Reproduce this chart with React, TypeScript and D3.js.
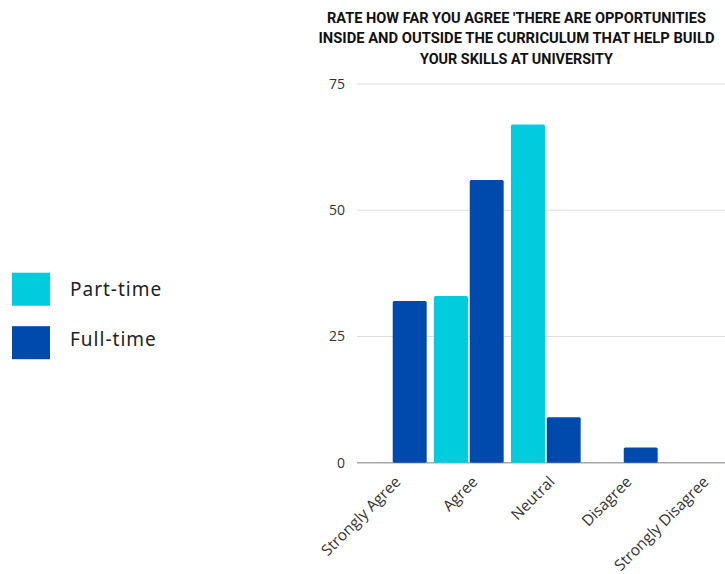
import React from "react";
import * as d3 from "d3";

const categories = ["Strongly Agree", "Agree", "Neutral", "Disagree", "Strongly Disagree"];
const seriesNames = ["Part-time", "Full-time"];
const partTime = [0, 33, 67, 0, 0];
const fullTime = [32, 56, 9, 3, 0];
const yTicks = [0, 25, 50, 75];
const titleLines = [
  "RATE HOW FAR YOU AGREE 'THERE ARE OPPORTUNITIES",
  "INSIDE AND OUTSIDE THE CURRICULUM THAT HELP BUILD",
  "YOUR SKILLS AT UNIVERSITY",
];
const titleWidths = [379, 396, 193];
const colors = ["#00CCDD", "#004AAD"];

export default function App() {
  const W = 725, H = 574;
  const x0 = d3
    .scaleBand<string>()
    .domain(categories)
    .range([357, 357 + 77 * 5 - 7.3])
    .paddingInner(0.095)
    .paddingOuter(0);
  const x1 = d3
    .scaleBand<string>()
    .domain(seriesNames)
    .range([0, x0.bandwidth()])
    .paddingInner(0.05);
  const y = d3.scaleLinear().domain([0, 75]).range([462.7, 84]);
  const series = [partTime, fullTime];
  const legendBaselines = [296, 346];

  return (
    <svg
      width={W}
      height={H}
      style={{ position: "absolute", left: 0, top: 0, background: "#fff" }}
    >
      {/* title */}
      <g fontFamily="Roboto, 'Liberation Sans', sans-serif" fontWeight="bold" fontSize={14.2} fill="#111" textAnchor="middle">
        {titleLines.map((t, i) => (
          <text
            key={i}
            x={516.5}
            y={22.7 + i * 20.7}
            textLength={titleWidths[i]}
            lengthAdjust="spacingAndGlyphs"
          >
            {t}
          </text>
        ))}
      </g>
      {/* gridlines */}
      {yTicks.map((t) => (
        <g key={t}>
          <line
            x1={357}
            x2={W}
            y1={y(t)}
            y2={y(t)}
            stroke={t === 0 ? "#a8a8a8" : "#dedede"}
            strokeWidth={t === 0 ? 1.6 : 1}
          />
          <text
            x={345}
            y={y(t)}
            dy="0.35em"
            textAnchor="end"
            fontFamily="'Open Sans', sans-serif"
            fontSize={14}
            fill="#333"
          >
            {t}
          </text>
        </g>
      ))}
      {/* bars */}
      {categories.map((c, ci) => (
        <g key={c} transform={`translate(${x0(c)},0)`}>
          {seriesNames.map((s, si) => {
            const v = series[si][ci];
            if (v <= 0) return null;
            return (
              <rect
                key={s}
                x={x1(s)}
                y={y(v)}
                width={x1.bandwidth()}
                height={y(0) - y(v)}
                rx={1.5}
                fill={colors[si]}
              />
            );
          })}
        </g>
      ))}
      {/* x labels */}
      {categories.map((c) => {
        const cx = (x0(c) as number) + x0.bandwidth() / 2;
        return (
          <text
            key={c}
            transform={`translate(${cx + 6},${479}) rotate(-45)`}
            textAnchor="end"
            dy="0.35em"
            fontFamily="'Open Sans', sans-serif"
            fontSize={15.4}
            fill="#333"
          >
            {c}
          </text>
        );
      })}
      {/* legend */}
      {seriesNames.map((s, i) => (
        <g key={s}>
          <rect x={12} y={272.7 + i * 53.5} width={38} height={33} fill={colors[i]} />
          <text
            x={70}
            y={legendBaselines[i]}
            fontFamily="'Noto Sans', sans-serif"
            fontSize={19}
            letterSpacing={1}
            fill="#222"
          >
            {s}
          </text>
        </g>
      ))}
    </svg>
  );
}
